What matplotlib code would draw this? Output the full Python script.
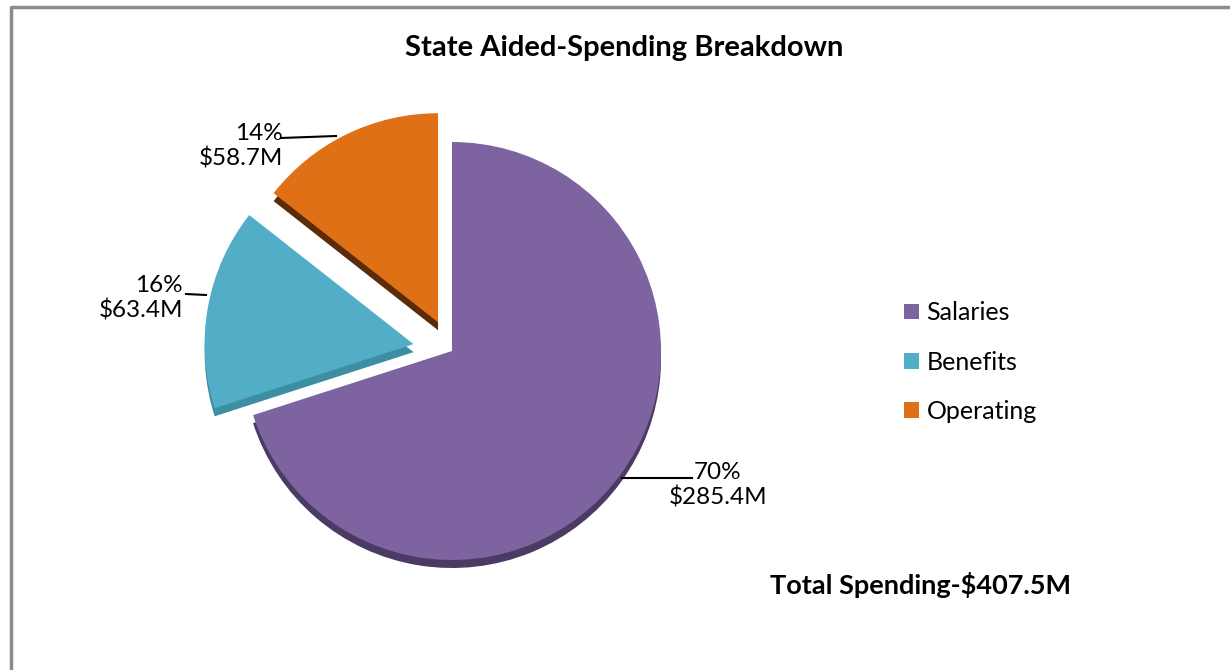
import numpy as np
import matplotlib.pyplot as plt

# Spending categories (millions of dollars)
categories = ['Salaries', 'Benefits', 'Operating']
spending = [285.4, 63.4, 58.7]
total_label = 'Total Spending-$407.5M'

top_colors = ['#7D64A0', '#52ADC6', '#E07016']
side_colors = ['#4B3A63', '#3D8EA2', '#5C2C08']

plt.rcParams['font.family'] = ['Lato', 'DejaVu Sans']

W, H = 1230, 670
fig = plt.figure(figsize=(W / 100, H / 100), dpi=100)
ax = fig.add_axes([0, 0, 1, 1])

cx, cy, r = 452, H - 351, 209
depth = 8
# explode offsets are in data units (pixels here)
explode = [0, 39, 32]

# side of the 3D pie: same slices shifted down, darker
ax.pie(spending, explode=explode, startangle=90, counterclock=False,
       colors=side_colors, center=(cx, cy - depth), radius=r,
       wedgeprops=dict(linewidth=0))
wedges, _ = ax.pie(spending, explode=explode, startangle=90, counterclock=False,
                   colors=top_colors, center=(cx, cy), radius=r,
                   wedgeprops=dict(linewidth=0))

ax.set_xlim(0, W)
ax.set_ylim(0, H)
ax.set_aspect('auto')
ax.axis('off')

# frame around the chart area
ax.plot([11, 11, W], [0, H - 7, H - 7], color='#8c8c8c', lw=2.5, clip_on=False)

total = sum(spending)
labels = [f'{round(v / total * 100)}%\n${v}M' for v in spending]

# label anchor, alignment and leader line ends
label_pos = [(718, H - 485, 'center'), (183, H - 298, 'right'), (283, H - 146, 'right')]
leaders = [[(622, 692), (H - 478, H - 478)],
           [(186, 206), (H - 294, H - 295)],
           [(281, 336), (H - 138, H - 136)]]
for lab, (x, y, ha), (lx, ly) in zip(labels, label_pos, leaders):
    ax.text(x, y, lab, ha=ha, va='center', fontsize=17.5, linespacing=1.2)
    ax.plot(lx, ly, color='black', lw=1.5)

ax.text(624, H - 48, 'State Aided-Spending Breakdown', ha='center', va='center',
        fontsize=21, fontweight='bold')
ax.text(920, H - 585, total_label, ha='center', va='center',
        fontsize=19.5, fontweight='bold')

ax.legend(wedges, categories, loc='center left', bbox_to_anchor=(894 / W, 1 - 362 / H),
          frameon=False, fontsize=18, handlelength=0.6, handleheight=0.6,
          handletextpad=0.3, labelspacing=1.05, borderaxespad=0)

fig.savefig('out.png', dpi=100)
